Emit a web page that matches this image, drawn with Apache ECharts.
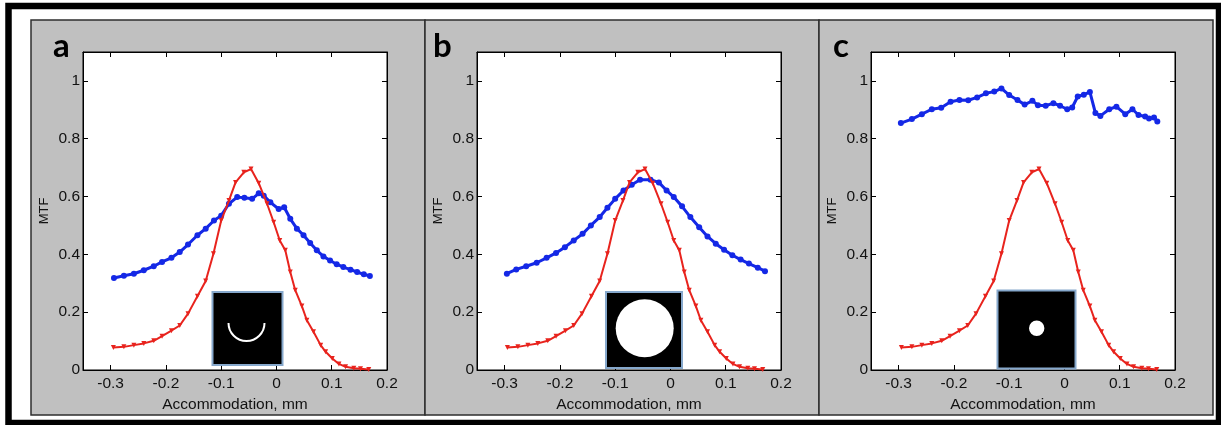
<!DOCTYPE html>
<html>
<head>
<meta charset="utf-8">
<script src="https://cdn.jsdelivr.net/npm/echarts@6/dist/echarts.min.js"></script>
<style>
html,body{margin:0;padding:0;background:#fff;}
#chart{width:1221px;height:425px;}
</style>
</head>
<body>
<div id="chart"></div>
<script>
// ---- tick labels ----
const xTicks = [-0.3, -0.2, -0.1, 0, 0.1, 0.2];
const yTicks = [0, 0.2, 0.4, 0.6, 0.8, 1];
const panelLetters = ['a', 'b', 'c'];
const xName = 'Accommodation, mm';
const yName = 'MTF';

// ---- red curve (same in all panels) ----
const redX = [-0.295,-0.276,-0.258,-0.240,-0.222,-0.207,-0.190,-0.175,-0.160,-0.143,-0.128,-0.114,-0.100,-0.086,-0.074,-0.059,-0.046,-0.032,-0.017,-0.005,0.006,0.016,0.025,0.034,0.046,0.055,0.067,0.080,0.089,0.101,0.113,0.125,0.140,0.152,0.167];
const redY = [0.078,0.080,0.086,0.092,0.101,0.117,0.136,0.154,0.195,0.255,0.308,0.402,0.517,0.586,0.649,0.684,0.695,0.646,0.575,0.511,0.448,0.414,0.339,0.276,0.221,0.172,0.132,0.086,0.063,0.040,0.021,0.011,0.006,0.004,0.002];

// ---- blue curve, panel a ----
const blueAX = [-0.294,-0.276,-0.258,-0.240,-0.222,-0.207,-0.190,-0.175,-0.160,-0.143,-0.128,-0.113,-0.100,-0.086,-0.071,-0.058,-0.044,-0.032,-0.023,-0.011,0.004,0.014,0.025,0.037,0.049,0.061,0.073,0.085,0.097,0.109,0.121,0.134,0.146,0.158,0.169];
const blueAY = [0.318,0.326,0.333,0.345,0.359,0.374,0.388,0.408,0.434,0.466,0.489,0.517,0.534,0.575,0.598,0.596,0.592,0.611,0.603,0.580,0.557,0.563,0.523,0.489,0.466,0.439,0.414,0.393,0.379,0.366,0.356,0.347,0.339,0.331,0.325];

// ---- blue curve, panel b ----
const blueBX = [-0.296,-0.279,-0.261,-0.242,-0.224,-0.207,-0.191,-0.175,-0.159,-0.144,-0.128,-0.114,-0.100,-0.085,-0.070,-0.055,-0.036,-0.021,-0.007,0.006,0.021,0.036,0.052,0.067,0.082,0.097,0.112,0.127,0.142,0.158,0.171];
const blueBY = [0.333,0.348,0.359,0.371,0.388,0.405,0.425,0.448,0.471,0.500,0.529,0.561,0.592,0.621,0.641,0.658,0.658,0.649,0.621,0.598,0.566,0.529,0.494,0.462,0.437,0.416,0.397,0.382,0.368,0.354,0.342];

// ---- blue curve, panel c ----
const blueCX = [-0.296,-0.276,-0.258,-0.240,-0.223,-0.206,-0.190,-0.174,-0.158,-0.142,-0.127,-0.114,-0.100,-0.085,-0.072,-0.058,-0.048,-0.034,-0.020,-0.008,0.005,0.014,0.024,0.035,0.046,0.056,0.065,0.081,0.094,0.110,0.123,0.134,0.146,0.153,0.162,0.168];
const blueCY = [0.854,0.868,0.885,0.902,0.907,0.928,0.934,0.933,0.943,0.957,0.963,0.974,0.951,0.934,0.918,0.931,0.916,0.914,0.923,0.914,0.902,0.908,0.946,0.952,0.962,0.889,0.879,0.902,0.911,0.885,0.902,0.882,0.877,0.870,0.873,0.860];

const zip = (xs, ys) => xs.map((x, i) => [x, ys[i]]);
const blues = [zip(blueAX, blueAY), zip(blueBX, blueBY), zip(blueCX, blueCY)];
const red = zip(redX, redY);

const BLUE = '#1428e6';
const RED = '#e8231d';
const FONT = 'Liberation Sans, Arial, sans-serif';

const gridLefts = [83, 477, 871];
const grids = [], xAxes = [], yAxes = [], series = [];
gridLefts.forEach((L, i) => {
  grids.push({left: L, top: 52, width: 304, height: 318, show: true,
    backgroundColor: '#fff', borderColor: '#000', borderWidth: 1,
    containLabel: false, outerBoundsMode: 'none'});
  const tick = {show: true, inside: true, length: 5, lineStyle: {color: '#000', width: 1}};
  const line = {show: true, onZero: false, lineStyle: {color: '#000', width: 1}};
  xAxes.push({type: 'value', gridIndex: i, min: -0.35, max: 0.2, position: 'bottom',
    axisLine: line, axisTick: Object.assign({customValues: xTicks}, tick),
    axisLabel: {customValues: xTicks, color: '#111', fontSize: 15.5, fontFamily: FONT, margin: 6},
    splitLine: {show: false},
    name: xName, nameLocation: 'middle', nameGap: 25,
    nameTextStyle: {color: '#111', fontSize: 15.5, fontFamily: FONT}});
  xAxes.push({type: 'value', gridIndex: i, min: -0.35, max: 0.2, position: 'top',
    axisLine: line, axisTick: Object.assign({customValues: xTicks}, tick),
    axisLabel: {show: false}, splitLine: {show: false}});
  yAxes.push({type: 'value', gridIndex: i, min: 0, max: 1.1, position: 'left',
    axisLine: line, axisTick: Object.assign({customValues: yTicks}, tick),
    axisLabel: {customValues: yTicks, color: '#111', fontSize: 15.5, fontFamily: FONT, margin: 3},
    splitLine: {show: false},
    name: yName, nameLocation: 'middle', nameGap: 32,
    nameTextStyle: {color: '#111', fontSize: 13, fontFamily: FONT}});
  yAxes.push({type: 'value', gridIndex: i, min: 0, max: 1.1, position: 'right',
    axisLine: line, axisTick: Object.assign({customValues: yTicks}, tick),
    axisLabel: {show: false}, splitLine: {show: false}});
  series.push({type: 'line', xAxisIndex: 2 * i, yAxisIndex: 2 * i, data: blues[i],
    symbol: 'circle', symbolSize: 6, showSymbol: true,
    itemStyle: {color: BLUE}, lineStyle: {color: BLUE, width: 3}, z: 3});
  series.push({type: 'line', xAxisIndex: 2 * i, yAxisIndex: 2 * i, data: red,
    symbol: 'triangle', symbolRotate: 180, symbolSize: 5, showSymbol: true,
    itemStyle: {color: RED}, lineStyle: {color: RED, width: 2}, z: 4});
});

const panelX = [31, 425, 819];
const letterX = [53, 433, 833];
const graphics = [];
panelX.forEach((px, i) => {
  graphics.push({type: 'rect', z: -10, shape: {x: px, y: 20, width: 394, height: 395},
    style: {fill: '#c0c0c0', stroke: '#2e2e2e', lineWidth: 1.5}});
  graphics.push({type: 'text', z: 10, x: letterX[i], y: 46,
    style: {text: panelLetters[i], font: 'bold 33px Lato, sans-serif', fill: '#000',
      verticalAlign: 'middle', align: 'left'}});
});
graphics.push({type: 'rect', z: 20, shape: {x: 8.5, y: 6, width: 1210.5, height: 417},
  style: {fill: 'none', stroke: '#000', lineWidth: 6.5}});
// insets
const insetStroke = '#86a8cc';
graphics.push({type: 'rect', z: 30, shape: {x: 212.5, y: 292, width: 70, height: 73},
  style: {fill: '#000', stroke: insetStroke, lineWidth: 2}});
graphics.push({type: 'arc', z: 31, shape: {cx: 246.5, cy: 323, r: 18, startAngle: 0, endAngle: Math.PI, clockwise: true},
  style: {fill: 'none', stroke: '#fff', lineWidth: 2}});
graphics.push({type: 'rect', z: 30, shape: {x: 606, y: 292, width: 76, height: 76},
  style: {fill: '#000', stroke: insetStroke, lineWidth: 2}});
graphics.push({type: 'circle', z: 31, shape: {cx: 644.7, cy: 328.3, r: 29},
  style: {fill: '#fff'}});
graphics.push({type: 'rect', z: 30, shape: {x: 997.5, y: 290.5, width: 78, height: 78},
  style: {fill: '#000', stroke: insetStroke, lineWidth: 2}});
graphics.push({type: 'circle', z: 31, shape: {cx: 1036.7, cy: 328.3, r: 7.7},
  style: {fill: '#fff'}});

const chart = echarts.init(document.getElementById('chart'), null, {renderer: 'canvas'});
chart.setOption({
  animation: false,
  backgroundColor: '#fff',
  grid: grids, xAxis: xAxes, yAxis: yAxes, series: series,
  graphic: {elements: graphics}
});
</script>
</body>
</html>
